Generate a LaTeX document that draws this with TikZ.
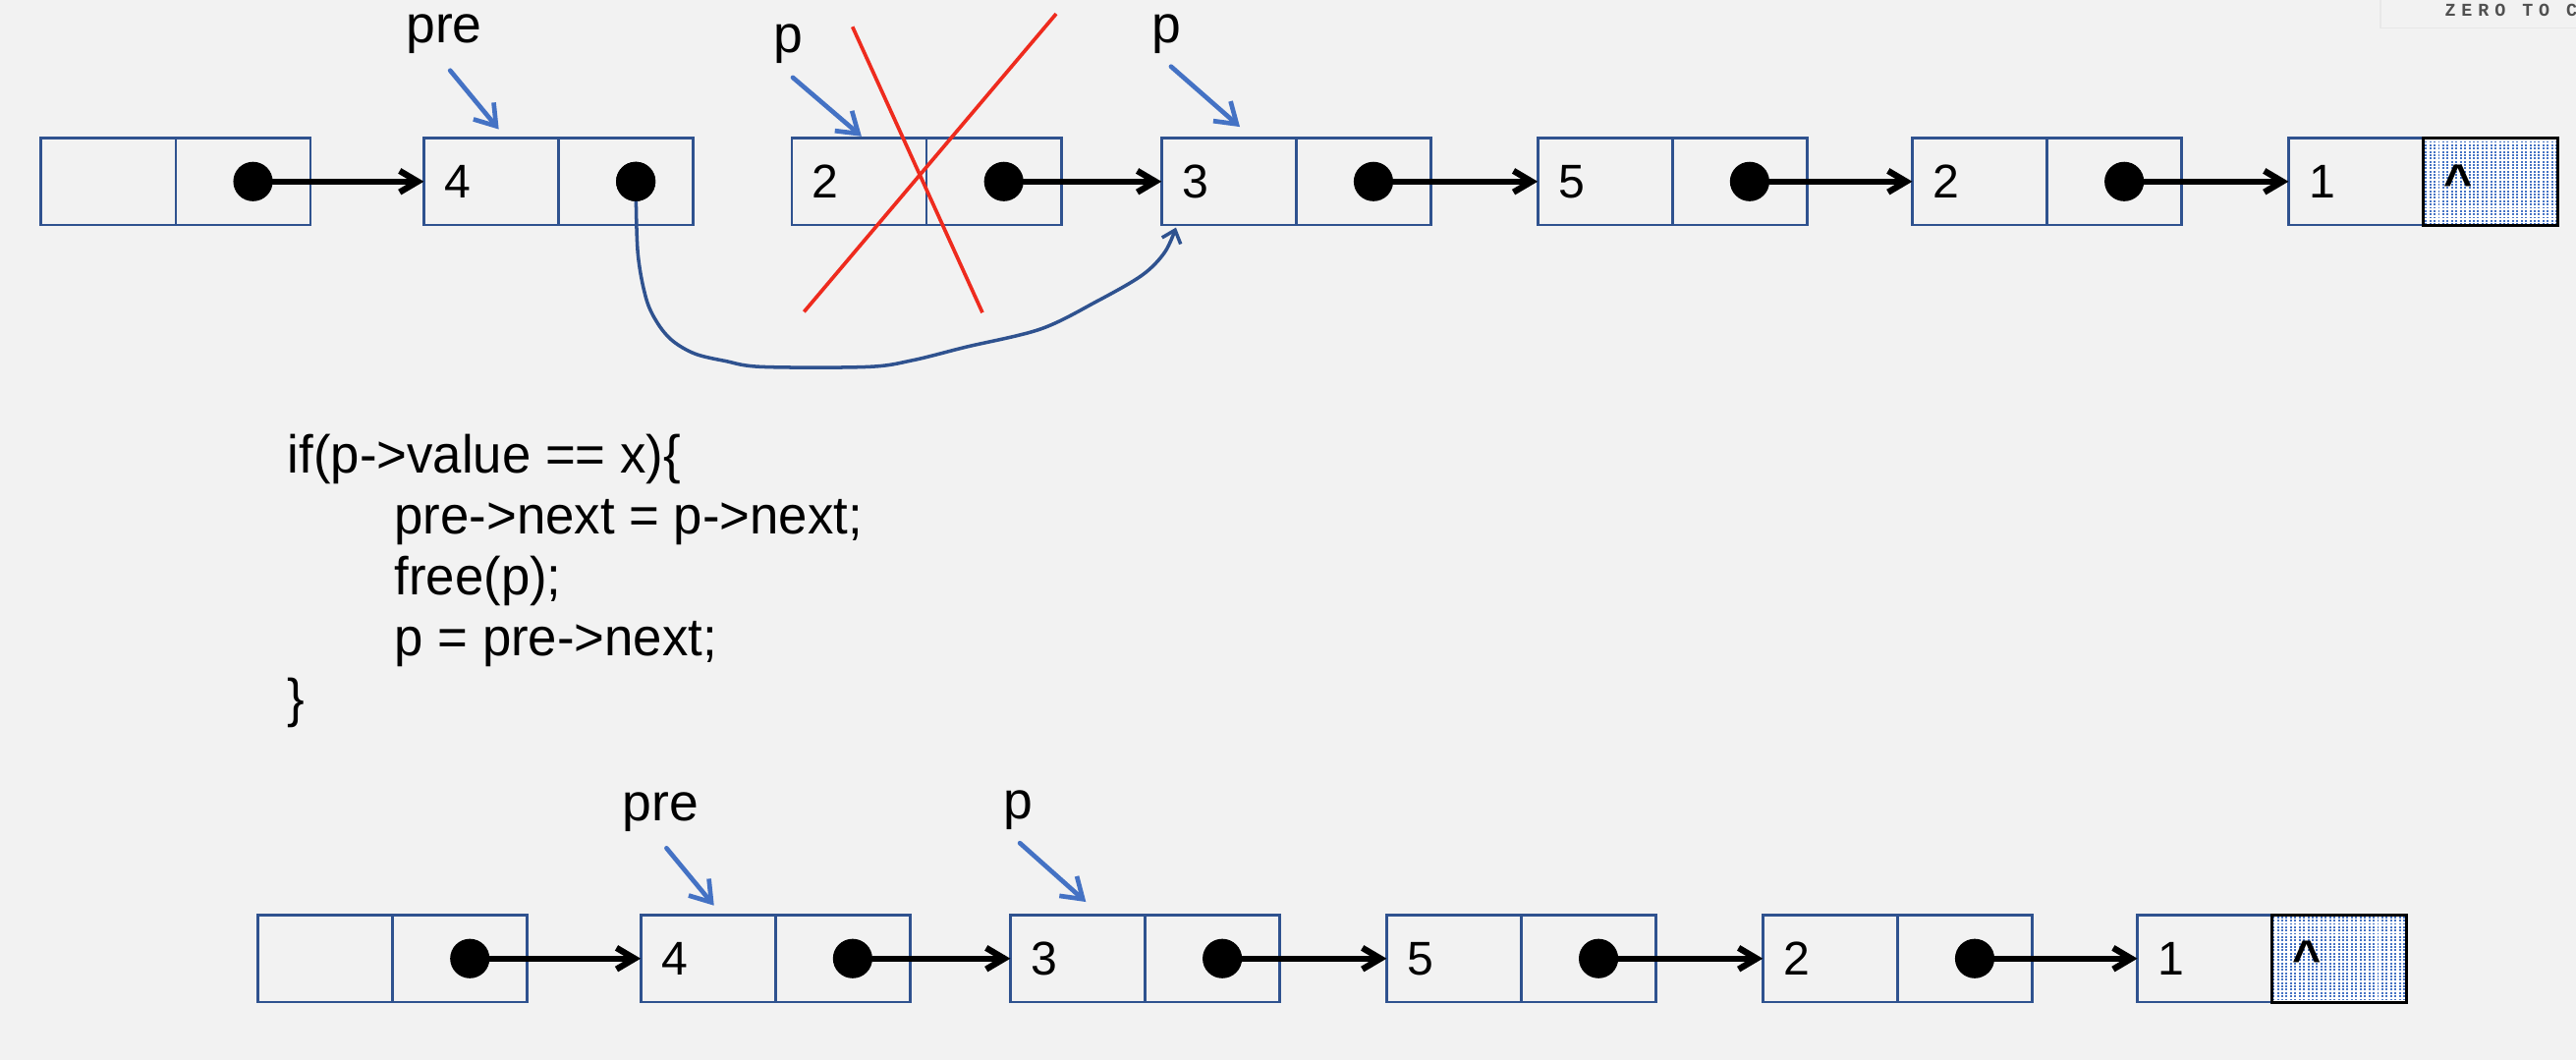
\documentclass[tikz,border=0pt]{standalone}
\usepackage{fontspec}
\setmainfont{Liberation Sans}
\newfontfamily\wmfont[LetterSpace=32]{Liberation Mono}
\usetikzlibrary{arrows.meta,patterns,calc}
\definecolor{bg}{HTML}{F2F2F2}
\definecolor{boxblue}{HTML}{2F528F}
\definecolor{ptrblue}{HTML}{4472C4}
\definecolor{crossred}{HTML}{EE2B1E}
\definecolor{wmgray}{HTML}{505050}
\pgfdeclarepatternformonly{finedots}{\pgfqpoint{-0.5pt}{-0.5pt}}{\pgfqpoint{2pt}{2pt}}{\pgfqpoint{2.65pt}{2pt}}{%
  \pgfpathrectangle{\pgfqpoint{0pt}{0pt}}{\pgfqpoint{1.15pt}{1.1pt}}\pgfusepath{fill}}
\tikzset{
  cell/.style={draw=boxblue, line width=1.6pt, minimum width=82pt, minimum height=53pt,
    inner sep=0pt, outer sep=0pt, anchor=north west},
  valcell/.style={cell, inner xsep=12.5pt, text width=57pt, align=left,
    font=\fontsize{28.8}{30}\selectfont},
  nullcell/.style={valcell, draw=black, line width=1.8pt, preaction={fill=white},
    pattern=finedots, pattern color=ptrblue, font=\bfseries\fontsize{30}{30}\selectfont},
  dotnode/.style={circle, fill=black, minimum size=24pt, inner sep=0pt},
  lbl/.style={anchor=base west, inner sep=0pt, font=\fontsize{32}{34}\selectfont},
  code/.style={anchor=base west, inner sep=0pt, font=\fontsize{32.5}{36}\selectfont},
  ptrarrow/.style={draw=ptrblue, line width=2.8pt, line cap=round, line join=round,
    -{Straight Barb[length=12pt,width=16pt]}},
  nextarrow/.style={draw=black, line width=3.8pt, line cap=round, line join=round,
    -{Straight Barb[length=11pt,width=13pt]}},
  relink/.style={draw=boxblue, line width=2.1pt, line cap=round, line join=round,
    -{Straight Barb[length=7pt,width=12pt]}},
  crossline/.style={draw=crossred, line width=2.2pt},
}
\newcommand\llnode[4]{%
  \node[valcell] (#1v) at (#2,#3) {#4};
  \node[cell] (#1n) at (#1v.north east) {};
  \node[dotnode] (#1d) at ($(#1n.center)+(6,0)$) {};
}
\newcommand\llnull[4]{%
  \node[valcell] (#1v) at (#2,#3) {#4};
  \node[nullcell] (#1n) at (#1v.north east) {\textasciicircum};
}
\newcommand\codetext[1]{\scalebox{0.97}[1]{#1}}
\begin{document}
\begin{tikzpicture}[x=1pt,y=-1pt]
\useasboundingbox[fill=bg] (0,0) rectangle (1568,645);

% watermark
\draw[draw=black!9, line width=0.8pt] (1449,0) -- (1449,17) -- (1568,17);
\node[anchor=base west, inner sep=0pt, text=wmgray, font=\wmfont\bfseries\fontsize{11}{12}\selectfont] (wm) at (1488,9.8) {ZERO TO C};

% top list
\llnode{ta}{25}{84}{}
\llnode{tb}{258}{84}{4}
\llnode{tc}{482}{84}{2}
\llnode{td}{707}{84}{3}
\llnode{te}{936}{84}{5}
\llnode{tf}{1164}{84}{2}
\llnull{tg}{1393}{84}{1}

\draw[nextarrow] (tad.east) -- (tbv.west);
\draw[nextarrow] (tcd.east) -- (tdv.west);
\draw[nextarrow] (tdd.east) -- (tev.west);
\draw[nextarrow] (ted.east) -- (tfv.west);
\draw[nextarrow] (tfd.east) -- (tgv.west);

% relinked pointer
\coordinate (curveend) at (715.8,138.5);
\draw[relink] plot[smooth, tension=0.55] coordinates {(tbd.center) (388.2,153.5) (393.2,181.4) (400,196.3) (409.2,207.3) (422.9,215.3) (441.2,219.7) (464,223.3) (528.2,223.3) (555.6,219.3) (587.7,211.3) (633.4,200.3) (667.7,183.4) (695.2,167.5) (709,153.5) (curveend)};
\node[dotnode] (tbd2) at (tbd.center) {};

% red cross
\draw[crossline] (518.9,16.3) -- (598,190.3);
\draw[crossline] (642.9,8.4) -- (489.4,189.8);

% top labels
\node[lbl] (lpre) at (247,25.9) {pre};
\node[lbl] (lpa) at (471,32) {p};
\node[lbl] (lpb) at (701,26) {p};
\coordinate (pa1) at (274,42.9); \coordinate (pa2) at (303.6,78.7);
\coordinate (pb1) at (482.6,47.2); \coordinate (pb2) at (524.4,83);
\coordinate (pc1) at (712.8,40.5); \coordinate (pc2) at (754.7,77.2);
\draw[ptrarrow] (pa1) -- (pa2);
\draw[ptrarrow] (pb1) -- (pb2);
\draw[ptrarrow] (pc1) -- (pc2);

% code
\node[code] (c1) at (175,288) {\codetext{if(p->value == x)\{}};
\node[code] (c2) at (240,325) {\codetext{pre->next = p->next;}};
\node[code] (c3) at (240,362) {\codetext{free(p);}};
\node[code] (c4) at (240,399) {\codetext{p = pre->next;}};
\node[code] (c5) at (175,436) {\codetext{\}}};

% bottom list
\llnode{ba}{157}{557}{}
\llnode{bb}{390}{557}{4}
\llnode{bc}{615}{557}{3}
\llnode{bd}{844}{557}{5}
\llnode{be}{1073}{557}{2}
\llnull{bf}{1301}{557}{1}

\draw[nextarrow] (bad.east) -- (bbv.west);
\draw[nextarrow] (bbd.east) -- (bcv.west);
\draw[nextarrow] (bcd.east) -- (bdv.west);
\draw[nextarrow] (bdd.east) -- (bev.west);
\draw[nextarrow] (bed.east) -- (bfv.west);

% bottom labels
\node[lbl] (bpre) at (378.6,499.4) {pre};
\node[lbl] (bp) at (610.4,498.5) {p};
\coordinate (qa1) at (405.7,516.3); \coordinate (qa2) at (434.6,551.2);
\coordinate (qb1) at (620.8,513.2); \coordinate (qb2) at (661,549);
\draw[ptrarrow] (qa1) -- (qa2);
\draw[ptrarrow] (qb1) -- (qb2);
\end{tikzpicture}
\end{document}
